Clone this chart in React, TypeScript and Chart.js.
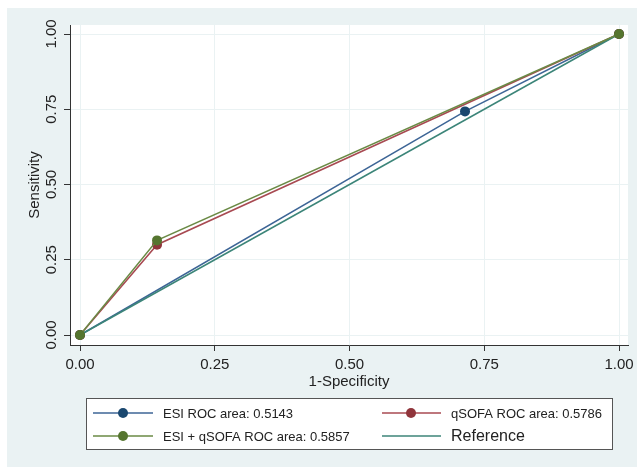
import React, { useEffect, useRef } from 'react';
import { Chart, registerables } from 'chart.js';

Chart.register(...registerables);

// ---- data ----
const tickValues = [0, 0.25, 0.5, 0.75, 1];
const tickLabels = ['0.00', '0.25', '0.50', '0.75', '1.00'];

const esiX = [0, 0.7143, 1];
const esiY = [0, 0.7429, 1];
const qsofaX = [0, 0.1429, 1];
const qsofaY = [0, 0.3, 1];
const comboX = [0, 0.1429, 1];
const comboY = [0, 0.3143, 1];
const refX = [0, 1];
const refY = [0, 1];

const seriesLabels = [
  'ESI ROC area: 0.5143',
  'qSOFA ROC area: 0.5786',
  'ESI + qSOFA ROC area: 0.5857',
  'Reference',
];

const xTitle = '1-Specificity';
const yTitle = 'Sensitivity';

const BG = '#EAF2F3';
const FONT = "'Liberation Sans', Arial, sans-serif";

const toPts = (xs: number[], ys: number[]) => xs.map((x, i) => ({ x, y: ys[i] }));

const bgPlugin = {
  id: 'stataBg',
  beforeDraw(chart: any) {
    const { ctx, width, height, chartArea } = chart;
    ctx.save();
    ctx.fillStyle = '#ffffff';
    ctx.fillRect(0, 0, width, height);
    ctx.fillStyle = BG;
    ctx.fillRect(7, 8, width - 7, height - 8);
    ctx.fillStyle = '#ffffff';
    ctx.fillRect(chartArea.left, chartArea.top, chartArea.right - chartArea.left, chartArea.bottom - chartArea.top);
    ctx.restore();
  },
};

const legendPlugin = {
  id: 'stataLegend',
  afterDraw(chart: any) {
    const { ctx } = chart;
    const box = { l: 86, t: 398, r: 613, b: 450 };
    ctx.save();
    ctx.fillStyle = '#ffffff';
    ctx.fillRect(box.l, box.t, box.r - box.l, box.b - box.t);
    ctx.strokeStyle = '#555555';
    ctx.lineWidth = 1;
    ctx.strokeRect(box.l + 0.5, box.t + 0.5, box.r - box.l - 1, box.b - box.t - 1);
    const cols = [
      { l0: 93, l1: 153, m: 123, t: 163 },
      { l0: 382, l1: 441, m: 411, t: 451 },
    ];
    const rows = [413, 436];
    chart.data.datasets.forEach((ds: any, i: number) => {
      const c = cols[i % 2];
      const y = rows[Math.floor(i / 2)];
      ctx.strokeStyle = ds.borderColor;
      ctx.lineWidth = 1.5;
      ctx.beginPath();
      ctx.moveTo(c.l0, y);
      ctx.lineTo(c.l1, y);
      ctx.stroke();
      if (ds.pointRadius > 0) {
        ctx.fillStyle = ds.pointBackgroundColor;
        ctx.beginPath();
        ctx.arc(c.m, y, 5, 0, Math.PI * 2);
        ctx.fill();
      }
      ctx.fillStyle = '#222222';
      ctx.textBaseline = 'middle';
      ctx.textAlign = 'left';
      ctx.font = (ds.label === 'Reference' ? '16px ' : '13px ') + FONT;
      ctx.fillText(ds.label, c.t, y + 1);
    });
    ctx.restore();
  },
};

export default function App() {
  const ref = useRef<HTMLCanvasElement | null>(null);

  useEffect(() => {
    if (!ref.current) return;
    document.body.style.margin = '0';
    const setTicks = (scale: any) => {
      scale.ticks = tickValues.map((v) => ({ value: v }));
    };
    const chart = new Chart(ref.current, {
      type: 'scatter',
      data: {
        datasets: [
          {
            label: seriesLabels[0],
            data: toPts(esiX, esiY),
            showLine: true,
            borderColor: '#3d6596',
            borderWidth: 1.5,
            pointRadius: 5,
            pointBackgroundColor: '#1a476f',
            pointBorderWidth: 0,
            order: 4,
          },
          {
            label: seriesLabels[1],
            data: toPts(qsofaX, qsofaY),
            showLine: true,
            borderColor: '#a84a52',
            borderWidth: 1.5,
            pointRadius: 5,
            pointBackgroundColor: '#90353b',
            pointBorderWidth: 0,
            order: 3,
          },
          {
            label: seriesLabels[2],
            data: toPts(comboX, comboY),
            showLine: true,
            borderColor: '#6a8a45',
            borderWidth: 1.5,
            pointRadius: 5,
            pointBackgroundColor: '#55752f',
            pointBorderWidth: 0,
            order: 1,
          },
          {
            label: seriesLabels[3],
            data: toPts(refX, refY),
            showLine: true,
            borderColor: '#3c8579',
            borderWidth: 1.5,
            pointRadius: 0,
            pointBackgroundColor: '#3c8579',
            order: 2,
          },
        ],
      },
      options: {
        animation: false,
        responsive: false,
        devicePixelRatio: 1,
        layout: { padding: { left: 20, right: 9, top: 25, bottom: 76 } },
        plugins: { legend: { display: false }, tooltip: { enabled: false } },
        scales: {
          x: {
            type: 'linear',
            min: -10 / 539,
            max: 1 + 9 / 539,
            afterBuildTicks: setTicks,
            afterFit: (s: any) => { s.height = 46; s.paddingLeft = 0; s.paddingRight = 0; },
            grid: { color: BG, lineWidth: 1, tickColor: '#333333', tickLength: 6, drawTicks: true },
            border: { display: true, color: '#333333', width: 1 },
            ticks: {
              color: '#222222',
              font: { family: FONT, size: 15 },
              padding: 5,
              maxRotation: 0,
              minRotation: 0,
              callback: (_v: any, i: number) => tickLabels[i],
            },
            title: {
              display: true,
              text: xTitle,
              color: '#222222',
              font: { family: FONT, size: 15 },
              padding: 0,
            },
          },
          y: {
            type: 'linear',
            min: -10 / 301,
            max: 1 + 9 / 301,
            afterBuildTicks: setTicks,
            afterFit: (s: any) => { s.width = 50; s.paddingTop = 0; s.paddingBottom = 0; },
            grid: { color: BG, lineWidth: 1, tickColor: '#333333', tickLength: 6, drawTicks: true },
            border: { display: true, color: '#333333', width: 1 },
            ticks: {
              color: '#222222',
              font: { family: FONT, size: 15 },
              padding: -2.5,
              minRotation: 90,
              maxRotation: 90,
              crossAlign: 'center',
              callback: (_v: any, i: number) => tickLabels[i],
            },
            title: {
              display: true,
              text: yTitle,
              color: '#222222',
              font: { family: FONT, size: 15 },
              padding: { top: 5.5, bottom: 0 },
            },
          },
        },
      },
      plugins: [bgPlugin, legendPlugin],
    } as any);
    return () => chart.destroy();
  }, []);

  return (
    <canvas
      ref={ref}
      width={637}
      height={467}
      style={{ position: 'absolute', left: 0, top: 0, width: 637, height: 467, display: 'block' }}
    />
  );
}
